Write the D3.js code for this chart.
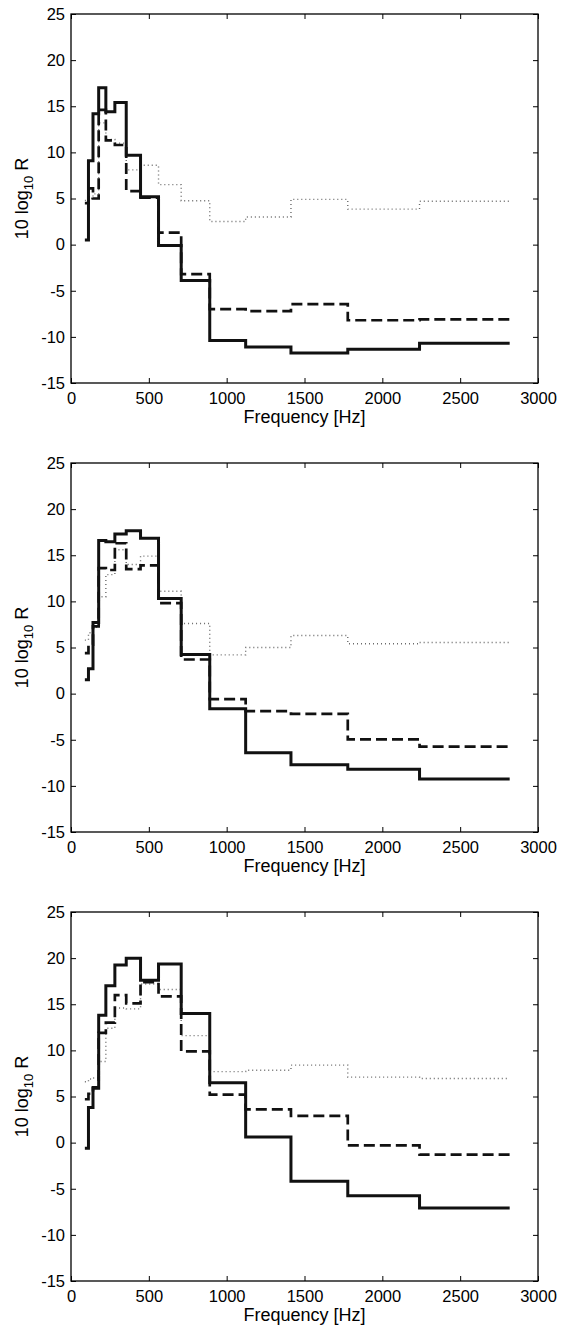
<!DOCTYPE html>
<html>
<head>
<meta charset="utf-8">
<script src="https://cdn.jsdelivr.net/npm/d3@7"></script>
<style>
  body { margin: 0; background: #fff; }
  text { font-family: "Liberation Sans", Arial, sans-serif; fill: #000; }
</style>
</head>
<body>
<script>

// third-octave band edges [Hz], bands 100 ... 2500 Hz
let bandEdges = [89.1, 112.2, 141.3, 177.8, 223.9, 281.8, 354.8, 446.7, 562.3, 707.9, 891.3, 1122, 1413, 1778, 2239, 2818];

// panel 1
let solid1  = [0.5, 9.1, 14.2, 17.0, 14.4, 15.4, 9.7, 5.2, -0.1, -3.9, -10.4, -11.1, -11.75, -11.35, -10.7];
let dashed1 = [4.5, 6.1, 5.0, 14.6, 11.3, 10.8, 5.8, 5.1, 1.3, -3.2, -7.0, -7.2, -6.45, -8.2, -8.1];
let dotted1 = [4.8, 5.0, 5.5, 13.2, 11.4, 11.0, 8.1, 8.6, 6.5, 4.75, 2.5, 3.0, 4.9, 3.85, 4.7];

// panel 2
let solid2  = [1.5, 2.7, 7.7, 16.6, 16.45, 17.3, 17.65, 16.85, 10.3, 4.25, -1.65, -6.4, -7.7, -8.2, -9.25];
let dashed2 = [4.4, 5.3, 7.3, 13.6, 13.4, 16.3, 13.5, 13.9, 9.8, 3.7, -0.6, -1.9, -2.2, -4.95, -5.75];
let dotted2 = [5.8, 6.6, 7.2, 10.5, 12.9, 15.6, 14.0, 14.9, 11.1, 7.6, 4.2, 5.0, 6.3, 5.4, 5.55];

// panel 3
let solid3  = [-0.6, 3.8, 5.9, 13.8, 17.0, 19.25, 20.0, 17.6, 19.35, 14.0, 6.5, 0.6, -4.2, -5.75, -7.1];
let dashed3 = [4.7, 5.3, 6.0, 11.9, 13.0, 16.0, 15.1, 17.4, 15.85, 9.9, 5.2, 3.6, 2.9, -0.3, -1.3];
let dotted3 = [6.6, 6.9, 7.0, 8.8, 12.4, 14.6, 14.5, 17.2, 16.6, 11.6, 7.7, 7.85, 8.4, 7.1, 6.95];

let xTicks = [0, 500, 1000, 1500, 2000, 2500, 3000];
let yTicks = [-15, -10, -5, 0, 5, 10, 15, 20, 25];

let width = 563, height = 1335;
let left = 71, right = 538, plotH = 369;
let panelTops = [14, 463, 912];

let panels = [
	{solid: solid1, dashed: dashed1, dotted: dotted1},
	{solid: solid2, dashed: dashed2, dotted: dotted2},
	{solid: solid3, dashed: dashed3, dotted: dotted3}
];

let svg = d3.select('body').append('svg')
	.attr('width', width)
	.attr('height', height);

let x = d3.scaleLinear().domain([0, 3000]).range([left, right]);

// plain labels, hyphen minus like matlab
let fmt = d => String(d);

// stairs: value i spans edge i .. edge i+1
function stairs(values) {
	let pts = values.map((v, i) => [bandEdges[i], v]);
	pts.push([bandEdges[values.length], values[values.length - 1]]);
	return pts;
}

panels.forEach(function(p, k) {
	let top = panelTops[k];
	let y = d3.scaleLinear().domain([-15, 25]).range([top + plotH, top]);
	let g = svg.append('g');

	let line = d3.line()
		.x(d => x(d[0]))
		.y(d => y(d[1]))
		.curve(d3.curveStepAfter);

	g.append('path')
		.attr('d', line(stairs(p.dotted)))
		.attr('fill', 'none')
		.attr('stroke', '#6a6a6a')
		.attr('stroke-width', 1.4)
		.attr('stroke-dasharray', '1,3');

	g.append('path')
		.attr('d', line(stairs(p.dashed)))
		.attr('fill', 'none')
		.attr('stroke', '#111')
		.attr('stroke-width', 2.7)
		.attr('stroke-dasharray', '11,5');

	g.append('path')
		.attr('d', line(stairs(p.solid)))
		.attr('fill', 'none')
		.attr('stroke', '#111')
		.attr('stroke-width', 3);

	// axes with inward ticks on all four sides
	g.append('g')
		.attr('transform', `translate(0,${top + plotH})`)
		.call(d3.axisBottom(x).tickValues(xTicks).tickFormat(fmt).tickSizeInner(-5).tickSizeOuter(0).tickPadding(9));
	g.append('g')
		.attr('transform', `translate(${left},0)`)
		.call(d3.axisLeft(y).tickValues(yTicks).tickFormat(fmt).tickSizeInner(-5).tickSizeOuter(0).tickPadding(6));
	g.append('g')
		.attr('transform', `translate(0,${top})`)
		.call(d3.axisTop(x).tickValues(xTicks).tickSizeInner(-5).tickSizeOuter(0).tickFormat(''));
	g.append('g')
		.attr('transform', `translate(${right},0)`)
		.call(d3.axisRight(y).tickValues(yTicks).tickSizeInner(-5).tickSizeOuter(0).tickFormat(''));

	g.selectAll('.domain').remove();
	g.selectAll('.tick line').attr('stroke', '#000').attr('stroke-width', 1);
	g.selectAll('.tick text')
		.attr('font-size', 16.5)
		.attr('font-family', '"Liberation Sans", Arial, sans-serif');

	g.append('rect')
		.attr('x', left)
		.attr('y', top)
		.attr('width', right - left)
		.attr('height', plotH)
		.attr('fill', 'none')
		.attr('stroke', '#000')
		.attr('stroke-width', 1.3);

	g.append('text')
		.attr('x', (left + right) / 2)
		.attr('y', top + plotH + 40)
		.attr('text-anchor', 'middle')
		.attr('font-size', 18)
		.text('Frequency [Hz]');

	let ylab = g.append('text')
		.attr('transform', `translate(28,${top + plotH / 2}) rotate(-90)`)
		.attr('text-anchor', 'middle')
		.attr('font-size', 18);
	ylab.append('tspan').text('10 log');
	ylab.append('tspan').attr('font-size', 13).attr('dy', 5).text('10');
	ylab.append('tspan').attr('dy', -5).text(' R');
});

</script>
</body>
</html>
